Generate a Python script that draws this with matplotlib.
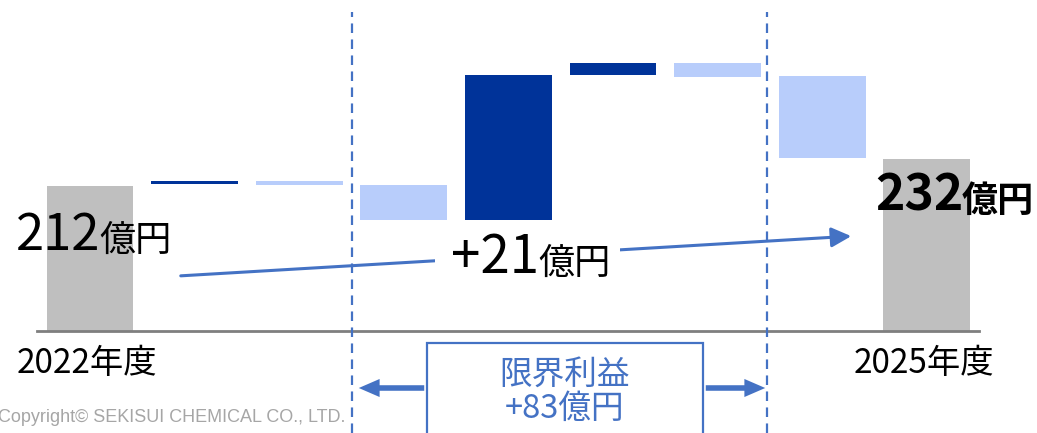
"""Waterfall of operating profit bridge, FY2022 -> FY2025 (億円)."""

import matplotlib

matplotlib.use("Agg")
import matplotlib.pyplot as plt  # noqa: E402
from matplotlib.patches import FancyArrowPatch, Rectangle  # noqa: E402

plt.rcParams["font.family"] = ["Noto Sans CJK JP", "DejaVu Sans"]

W, H = 1037, 433
GRAY = "#bfbfbf"
DARK = "#003399"
LIGHT = "#b8cdfb"
LINE = "#4472c4"

# bar segments: start -> end value (億円)
kinds = ["total", "up", "down", "down", "up", "up", "down", "down", "total"]
starts = [0, 213.5, 213.0, 213.0, 186.8, 294.5, 303.1, 293.5, 0]
ends = [212, 215.7, 215.5, 186.8, 294.5, 303.1, 292.8, 232.5, 232]
xlabels = ["2022年度", "", "", "", "", "", "", "", "2025年度"]
y_base = 104.6  # value at the drawn baseline
divider_x = [2.505, 6.47]

colors = {"total": GRAY, "up": DARK, "down": LIGHT}


def px(x, y):
    """pixel position -> figure fraction"""
    return x / W, 1 - y / H


fig = plt.figure(figsize=(W / 100, H / 100), dpi=100)
ax = fig.add_axes([37 / W, 1 - 331 / H, 942 / W, 331 / H])
ax.set_xlim(-0.507, 8.5)
ax.set_ylim(y_base, y_base + 331 / 1.35)

for i, (k, s, e) in enumerate(zip(kinds, starts, ends)):
    lo, hi = min(s, e), max(s, e)
    ax.bar(i, hi - lo, bottom=lo, width=0.83, color=colors[k], zorder=2)

for sp in ["top", "right", "left"]:
    ax.spines[sp].set_visible(False)
ax.spines["bottom"].set_color("#7f7f7f")
ax.spines["bottom"].set_linewidth(2)
ax.set_xticks([])
ax.set_yticks([])

# dashed dividers, run past the baseline to the figure bottom
y_bottom = y_base - 102 / 1.35
y_top = y_base + 319 / 1.35
for dx in divider_x:
    ax.plot([dx, dx], [y_bottom, y_top], color=LINE, lw=1.6,
            linestyle=(0, (4.3, 2.9)), clip_on=False, zorder=3)

# category labels under the first/last bar
for i, lab in enumerate(xlabels):
    if lab:
        ax.text(i - 0.03, y_base - 32 / 1.35, lab, ha="center", va="center",
                fontsize=24, color="black", clip_on=False)

# value labels
fig.text(*px(100, 250), "212", fontsize=36.5, ha="right", va="baseline")
fig.text(*px(99, 251), "億円", fontsize=26, ha="left", va="baseline")
fig.text(*px(964, 210), "232", fontsize=36, fontweight="bold",
         ha="right", va="baseline")
fig.text(*px(962, 212), "億円", fontsize=26, fontweight="bold",
         ha="left", va="baseline")

# trend arrow with +21 label
arr = FancyArrowPatch(px(178, 276), px(854, 236), transform=fig.transFigure,
                      arrowstyle="-|>,head_length=12,head_width=6",
                      mutation_scale=1, color=LINE, lw=2.2, zorder=4)
fig.add_artist(arr)
fig.add_artist(Rectangle(px(435, 282), 185 / W, 50 / H,
                         transform=fig.transFigure, facecolor="white",
                         edgecolor="none", zorder=5))
fig.text(*px(539, 273), "+21", fontsize=38, ha="right", va="baseline", zorder=6)
fig.text(*px(538, 274), "億円", fontsize=26, ha="left", va="baseline", zorder=6)

# marginal profit box with arrows to dividers
fig.add_artist(Rectangle(px(427, 440), (703 - 427) / W, (440 - 343) / H,
                         transform=fig.transFigure, facecolor="white",
                         edgecolor=LINE, lw=1.6, zorder=5))
fig.text(*px(565, 375), "限界利益", fontsize=23.5, color=LINE,
         ha="center", va="center", zorder=6)
fig.text(*px(565, 409), "+83億円", fontsize=23.5, color=LINE,
         ha="center", va="center", zorder=6)
for x0, x1 in [(427, 356), (703, 768)]:
    fig.add_artist(FancyArrowPatch(
        px(x0, 388), px(x1, 388), transform=fig.transFigure,
        arrowstyle="simple,head_length=15,head_width=13,tail_width=4",
        mutation_scale=1, color=LINE, lw=0, zorder=4))

fig.text(*px(-2, 417), "Copyright© SEKISUI CHEMICAL CO., LTD.",
         fontsize=13, color="#a6a6a6", ha="left", va="center",
         family=["Liberation Sans Narrow", "Liberation Sans"])

fig.savefig("out.png", dpi=100)
